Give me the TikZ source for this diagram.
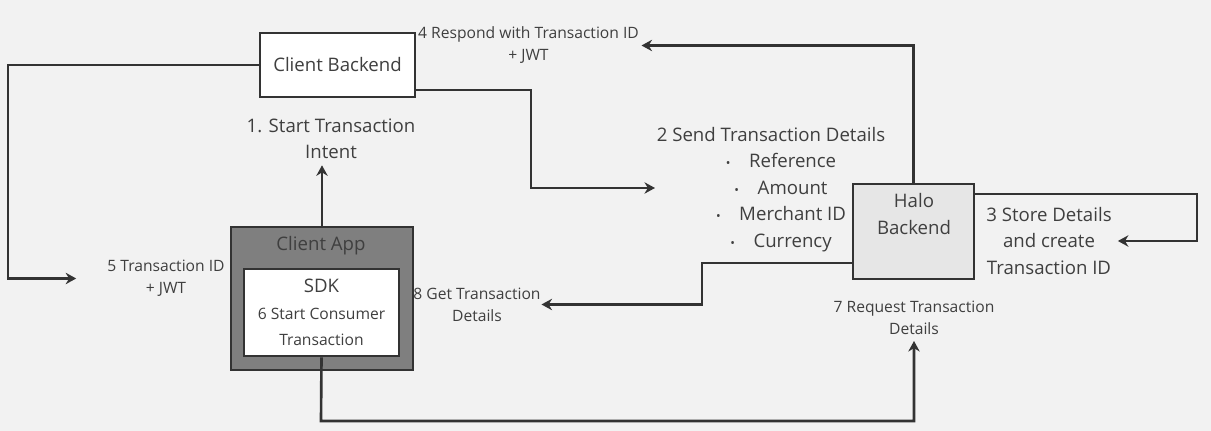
\documentclass[tikz,border=0pt]{standalone}
\usepackage{fontspec}
\setmainfont{Open Sans}
\usetikzlibrary{arrows.meta}

\definecolor{bgcol}{HTML}{F2F2F2}
\definecolor{inkcol}{HTML}{333333}
\definecolor{txtcol}{HTML}{3F3F3F}
\definecolor{appcol}{HTML}{7F7F7F}
\definecolor{halocol}{HTML}{E6E6E6}
\newcommand{\bigtxt}{\fontsize{10.6}{15}\selectfont}
\newcommand{\smalltxt}{\fontsize{8.9}{12.5}\selectfont}
\newcommand{\blt}{{\scriptsize\textbullet}\quad}

\begin{document}
\begin{tikzpicture}[x=0.02cm, y=-0.02cm,
  every node/.style={text=txtcol, align=center, font=\bigtxt},
  box/.style={draw=inkcol, line width=1.5pt, inner sep=0pt},
  small/.style={font=\smalltxt},
  flow/.style={draw=inkcol, line width=1.5pt, -{Stealth[length=6pt, width=6.5pt]}}]
  \fill[bgcol] (0,0) rectangle (1211,431);

  % boxes
  \node[box, fill=white, minimum width=3.1cm, minimum height=1.28cm] (cb) at (337.5,65) {Client Backend};
  \node[box, fill=appcol, minimum width=3.64cm, minimum height=2.86cm] (app) at (322,298.5) {};
  \node (apptitle) at (321,246) {Client App};
  \node[box, fill=white, minimum width=3.1cm, minimum height=1.74cm] (sdk) at (321.5,312.5)
    {SDK\\\smalltxt 6 Start Consumer\\\smalltxt Transaction};
  \node[box, fill=halocol, minimum width=2.42cm, minimum height=1.9cm] (halo) at (913.5,231.5) {};
  \node (halotxt) at (914,214) {Halo\\Backend};

  % labels
  \node[small] (lbl4) at (528.5,45.5) {4 Respond with Transaction ID\\+ JWT};
  \node (lbl1) at (331,139) {1. Start Transaction\\Intent};
  \node (lbl2) at (771,189.5) {2 Send Transaction Details\\
    \hspace*{0.4cm}\blt Reference\\\hspace*{0.4cm}\blt Amount\\
    \hspace*{0.4cm}\blt Merchant ID\\\hspace*{0.4cm}\blt Currency};
  \node (lbl3) at (1049,241) {3 Store Details\\and create\\Transaction ID};
  \node[small] (lbl5) at (166,278.5) {5 Transaction ID\\+ JWT};
  \node[small] (lbl8) at (477,304.5) {8 Get Transaction\\Details};
  \node[small] (lbl7) at (914,318) {7 Request Transaction\\Details};

  \coordinate (k1) at (8,65);
  \coordinate (k2) at (531,90);
  \coordinate (k3) at (1197,194);
  \coordinate (k4) at (702,263);
  \coordinate (k5) at (321,421);

  % connectors
  \draw[flow] (app.north) -- (app.north |- lbl1.south);
  \draw[flow] (cb.west) -- (k1) |- ([xshift=-0.5cm]lbl5.west);
  \draw[flow] (k2 -| cb.east) -- (k2) |- (655,188);
  \draw[flow] (halo.north) |- ([xshift=-2pt]lbl4.east);
  \draw[flow] (k3 -| halo.east) -- (k3) |- (lbl3.east);
  \draw[flow] (k4 -| halo.west) -- (k4) |- ([xshift=-3pt]lbl8.east);
  \draw[flow] (sdk.south) -- (k5) -| (lbl7.south);
\end{tikzpicture}
\end{document}
